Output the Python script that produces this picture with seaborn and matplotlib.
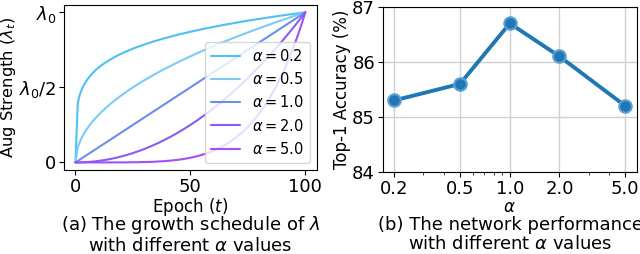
import numpy as np
import pandas as pd
import matplotlib
matplotlib.use("Agg")
import matplotlib.pyplot as plt
import seaborn as sns
from matplotlib.ticker import FixedLocator, FixedFormatter, LogLocator, NullFormatter

# growth schedule: lambda_t = lambda_0 * (t / T)^alpha
alphas = [0.2, 0.5, 1.0, 2.0, 5.0]
alpha_colors = ["#50bff4", "#7ccaf6", "#6a8ef0", "#8a5cf2", "#a24ff6"]
epochs = np.arange(0, 101)
total_epochs = 100

# network performance vs alpha
perf_alpha = [0.2, 0.5, 1.0, 2.0, 5.0]
perf_acc = [85.3, 85.6, 86.7, 86.1, 85.2]
perf_ticklabels = ["0.2", "0.5", "1.0", "2.0", "5.0"]

sns.set_style("ticks")
plt.rcParams["font.family"] = ["DejaVu Sans"]
plt.rcParams["mathtext.fontset"] = "dejavusans"
plt.rcParams["text.color"] = "black"
plt.rcParams["axes.labelcolor"] = "black"

rows = []
for a in alphas:
    lab = r"$\alpha = %.1f$" % a
    for t in epochs:
        rows.append({"t": t, "s": (t / total_epochs) ** a, "alpha": lab})
df = pd.DataFrame(rows)
labels = [r"$\alpha = %.1f$" % a for a in alphas]
pal = dict(zip(labels, alpha_colors))

fig = plt.figure(figsize=(6.4, 2.54), dpi=100)
ax1 = fig.add_axes([0.100, 0.331, 0.395, 0.650])
ax2 = fig.add_axes([0.598, 0.323, 0.397, 0.650])

# (a) growth schedule
sns.lineplot(data=df, x="t", y="s", hue="alpha", hue_order=labels, palette=pal,
             linewidth=1.5, ax=ax1)
ax1.set_yticks([0, 0.5, 1.0])
ax1.set_yticklabels(["0", r"$\lambda_0/2$", r"$\lambda_0$"])
ax1.set_xticks([0, 50, 100])
ax1.set_xlabel(r"Epoch ($t$)", fontsize=12, labelpad=0)
ax1.set_ylabel(r"Aug Strength ($\lambda_t$)", fontsize=11.8, labelpad=1)
ax1.tick_params(labelsize=13, colors="black", pad=2)
for sp in ax1.spines.values():
    sp.set_color("black")
leg = ax1.legend(loc="lower right", fontsize=10.5, title=None, framealpha=0.8)
for txt in leg.get_texts():
    txt.set_color("black")

# (b) performance
pdf = pd.DataFrame({"alpha": perf_alpha, "acc": perf_acc})
sns.lineplot(data=pdf, x="alpha", y="acc", ax=ax2, color="#1f77b4", linewidth=2.8,
             marker="o", markersize=9, markerfacecolor="#1f77b4",
             markeredgecolor="#5d9fd2", markeredgewidth=1.5, zorder=3)
ax2.set_xscale("log")
ax2.xaxis.set_major_locator(FixedLocator(perf_alpha))
ax2.xaxis.set_major_formatter(FixedFormatter(perf_ticklabels))
ax2.xaxis.set_minor_locator(LogLocator(base=10, subs=np.arange(2, 10) * 0.1))
ax2.xaxis.set_minor_formatter(NullFormatter())
ax2.set_ylim(84, 87)
ax2.set_yticks([84, 85, 86, 87])
ax2.grid(True, which="major", color="#d0d0d0", linewidth=1)
ax2.set_axisbelow(True)
ax2.set_xlabel(r"$\alpha$", fontsize=12, labelpad=0)
ax2.set_ylabel("Top-1 Accuracy (%)", fontsize=12, labelpad=1)
ax2.tick_params(labelsize=13, colors="black", pad=2)
for sp in ax2.spines.values():
    sp.set_color("black")

fig.text(0.297, 0.076, "(a) The growth schedule of $\\lambda$\nwith different $\\alpha$ values",
         ha="center", va="center", fontsize=13, linespacing=1.05)
fig.text(0.797, 0.076, "(b) The network performance\nwith different $\\alpha$ values",
         ha="center", va="center", fontsize=13, linespacing=1.05)

fig.savefig("out.png", dpi=100)
